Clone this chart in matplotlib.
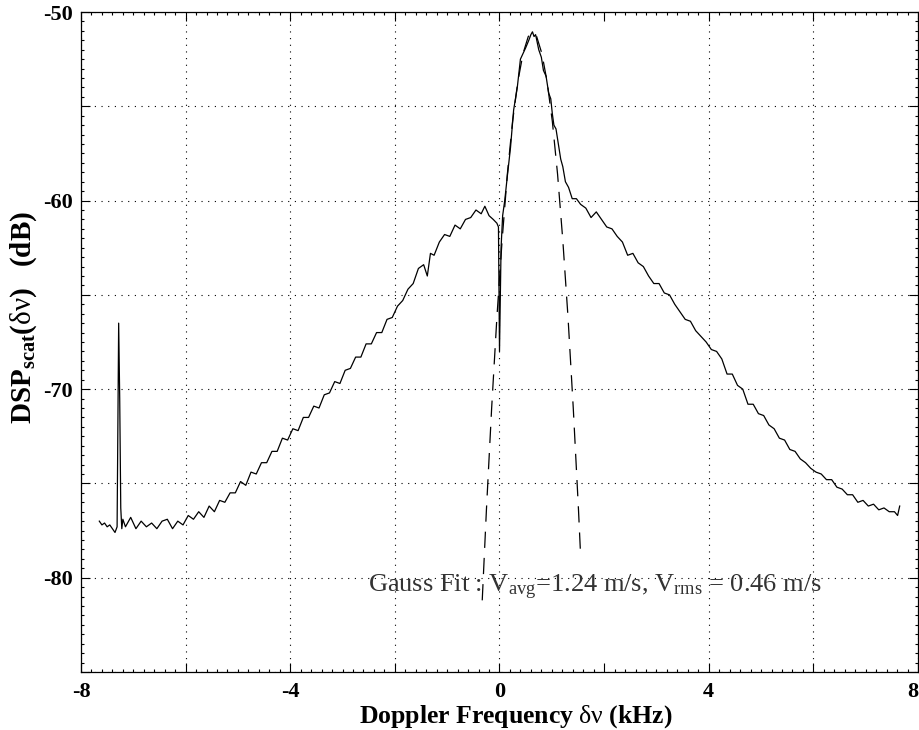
import matplotlib
matplotlib.use("Agg")
import matplotlib.pyplot as plt
from matplotlib.ticker import MultipleLocator

plt.rcParams["font.family"] = ["Liberation Serif", "DejaVu Serif"]
plt.rcParams["mathtext.fontset"] = "custom"
plt.rcParams["mathtext.rm"] = "Liberation Serif"
plt.rcParams["mathtext.it"] = "Liberation Serif:italic"
plt.rcParams["mathtext.bf"] = "Liberation Serif:bold"

freq_khz = [
    -7.65, -7.60, -7.55, -7.50, -7.45, -7.40, -7.35, -7.31, -7.29, -7.28,
    -7.26, -7.24, -7.22, -7.20, -7.15, -7.05, -6.95, -6.85, -6.75, -6.65,
    -6.55, -6.45, -6.35, -6.25, -6.15, -6.05, -5.95, -5.85, -5.75, -5.65,
    -5.55, -5.45, -5.35, -5.25, -5.15, -5.05, -4.95, -4.85, -4.75, -4.65,
    -4.55, -4.45, -4.35, -4.25, -4.15, -4.05, -3.95, -3.85, -3.75, -3.65,
    -3.55, -3.45, -3.35, -3.25, -3.15, -3.05, -2.95, -2.85, -2.75, -2.65,
    -2.55, -2.45, -2.35, -2.25, -2.15, -2.05, -1.95, -1.85, -1.75, -1.65,
    -1.55, -1.45, -1.38, -1.32, -1.25, -1.15, -1.05, -0.95, -0.85, -0.75,
    -0.65, -0.55, -0.45, -0.35, -0.28, -0.20, -0.12, -0.05, -0.02, 0.00,
    0.03, 0.06, 0.10, 0.15, 0.21, 0.27, 0.34, 0.40, 0.45, 0.50,
    0.56, 0.60, 0.63, 0.66, 0.69, 0.75, 0.80, 0.84, 0.89, 0.94,
    0.98, 1.01, 1.04, 1.08, 1.12, 1.17, 1.21, 1.26, 1.32, 1.39,
    1.47, 1.55, 1.65, 1.75, 1.85, 1.95, 2.05, 2.15, 2.25, 2.35,
    2.45, 2.55, 2.65, 2.75, 2.85, 2.95, 3.05, 3.15, 3.25, 3.35,
    3.45, 3.55, 3.65, 3.75, 3.85, 3.95, 4.05, 4.15, 4.25, 4.35,
    4.45, 4.55, 4.65, 4.75, 4.85, 4.95, 5.05, 5.15, 5.25, 5.35,
    5.45, 5.55, 5.65, 5.75, 5.85, 5.95, 6.05, 6.15, 6.25, 6.35,
    6.45, 6.55, 6.65, 6.75, 6.85, 6.95, 7.05, 7.15, 7.25, 7.35,
    7.45, 7.55, 7.61, 7.65,
]
dsp_db = [
    -77.0, -77.2, -77.1, -77.3, -77.2, -77.4, -77.6, -77.3, -70.0, -66.5,
    -70.5, -76.3, -77.4, -76.9, -77.3, -76.8, -77.4, -77.0, -77.3, -77.1,
    -77.4, -77.0, -76.9, -77.4, -77.0, -77.2, -76.7, -76.9, -76.5, -76.8,
    -76.2, -76.5, -75.9, -76.0, -75.5, -75.5, -74.9, -75.1, -74.4, -74.5,
    -73.9, -73.9, -73.3, -73.3, -72.6, -72.7, -72.1, -72.2, -71.5, -71.5,
    -70.9, -71.0, -70.3, -70.2, -69.6, -69.7, -69.0, -68.9, -68.3, -68.3,
    -67.6, -67.6, -67.0, -67.0, -66.3, -66.2, -65.6, -65.3, -64.7, -64.4,
    -63.6, -63.4, -64.0, -62.8, -62.9, -62.2, -61.8, -61.9, -61.3, -61.5,
    -61.0, -60.9, -60.5, -60.7, -60.3, -60.8, -61.0, -61.2, -61.4, -68.0,
    -62.5, -60.8, -60.0, -58.7, -57.2, -55.2, -54.0, -52.5, -52.2, -51.9,
    -51.5, -51.2, -51.05, -51.3, -51.2, -52.0, -52.4, -53.1, -53.4, -54.3,
    -54.6, -55.4, -56.0, -56.2, -56.9, -57.8, -58.2, -59.0, -59.3, -59.9,
    -59.9, -60.2, -60.4, -60.9, -60.6, -61.0, -61.4, -61.5, -61.9, -62.2,
    -62.9, -62.8, -63.3, -63.5, -64.0, -64.4, -64.4, -64.9, -65.0, -65.5,
    -65.9, -66.3, -66.4, -66.9, -67.2, -67.5, -67.9, -68.0, -68.4, -69.2,
    -69.2, -69.8, -70.0, -70.8, -70.8, -71.3, -71.4, -71.9, -72.1, -72.6,
    -72.7, -73.2, -73.3, -73.7, -73.9, -74.2, -74.4, -74.5, -74.8, -74.8,
    -75.2, -75.3, -75.6, -75.6, -76.0, -75.9, -76.2, -76.1, -76.4, -76.3,
    -76.5, -76.5, -76.7, -76.2,
]

# Gaussian fit (dashed)
fit_khz = [-0.33, -0.25, -0.15, -0.05, 0.05, 0.15, 0.25, 0.35, 0.45, 0.55,
           0.63, 0.71, 0.81, 0.91, 1.01, 1.11, 1.21, 1.31, 1.41, 1.51, 1.55]
fit_db = [-81.2, -76.4, -71.0, -66.2, -62.1, -58.6, -55.8, -53.7, -52.2, -51.3,
          -51.1, -51.3, -52.2, -53.7, -55.8, -58.6, -62.1, -66.2, -71.0, -76.4, -78.8]

x_ticks = [-8, -6, -4, -2, 0, 2, 4, 6, 8]
x_labels = ["-8", "", "-4", "", "0", "", "4", "", "8"]
y_ticks = [-85, -80, -75, -70, -65, -60, -55, -50]
y_labels = ["", "-80", "", "-70", "", "-60", "", "-50"]

fig = plt.figure(figsize=(9.19, 7.30), dpi=100)
ax = fig.add_axes([81 / 919, 58 / 730, 837 / 919, 660 / 730])

ax.plot(freq_khz, dsp_db, color="black", lw=0.9)
ax.plot(fit_khz, fit_db, color="black", lw=0.9, linestyle=(0, (13, 8)))

ax.set_xlim(-8, 8)
ax.set_ylim(-85, -50)
ax.set_xticks(x_ticks)
ax.set_xticklabels(x_labels, fontsize=16, fontweight="bold")
ax.get_xticklabels()[-1].set_horizontalalignment("right")
ax.set_yticks(y_ticks)
ax.set_yticklabels(y_labels, fontsize=16, fontweight="bold")
ax.xaxis.set_minor_locator(MultipleLocator(0.2))
ax.yaxis.set_minor_locator(MultipleLocator(0.5))
ax.tick_params(which="both", direction="in", top=True, right=True, width=0.8)
ax.tick_params(which="major", length=6.5)
ax.tick_params(which="minor", length=2)
ax.tick_params(axis="x", which="major", pad=7)
ax.tick_params(axis="y", which="major", pad=6)
for s in ax.spines.values():
    s.set_linewidth(0.9)

ax.grid(True, which="major", color="black", linestyle=(0, (1, 5)), lw=0.8)
# the grid line at +2 kHz is missing in the original
for pos, gl in zip(x_ticks, ax.xaxis.get_gridlines()):
    if pos == 2:
        gl.set_visible(False)

ax.text(-2.52, -80.8,
        r"Gauss Fit : V$_{\mathrm{avg}}$=1.24 m/s, V$_{\mathrm{rms}}$ = 0.46 m/s",
        fontsize=19, color="#333333", va="baseline", ha="left")

fig.text(516 / 919, 7 / 730,
         r"$\mathbf{Doppler\ Frequency}\ \mathrm{\delta\nu}\ \mathbf{(kHz)}$",
         fontsize=18.5, ha="center", va="baseline")
fig.text(24 / 919, 1 - 317 / 730,
         r"$\mathbf{DSP}_{\mathbf{scat}}\mathbf{(}\mathrm{\delta\nu}\mathbf{)\quad (dB)}$",
         fontsize=21, ha="center", va="center", rotation=90)

fig.savefig("out.png", dpi=100)
